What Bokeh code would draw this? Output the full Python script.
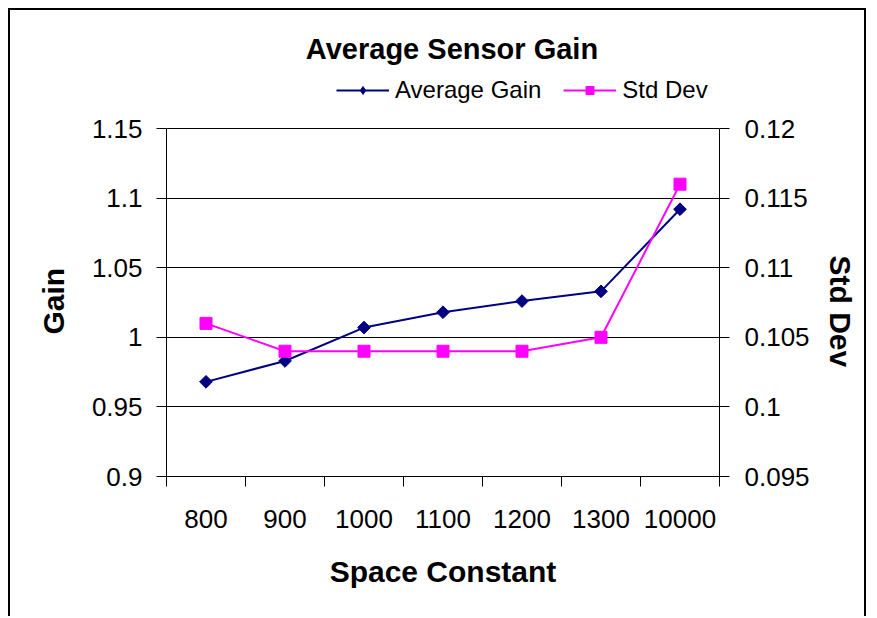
import math
from bokeh.plotting import figure
from bokeh.models import (Range1d, FactorRange, LinearAxis, FixedTicker,
                          Legend, LegendItem, Label, Title)
from bokeh.embed import file_html
from bokeh.resources import INLINE

# ---- data ----
categories = ["800", "900", "1000", "1100", "1200", "1300", "10000"]
avg_gain = [0.968, 0.983, 1.007, 1.018, 1.026, 1.033, 1.092]
std_dev = [0.106, 0.104, 0.104, 0.104, 0.104, 0.105, 0.116]
gain_ticks = [0.9, 0.95, 1.0, 1.05, 1.1, 1.15]
gain_tick_labels = ["0.9", "0.95", "1", "1.05", "1.1", "1.15"]
std_ticks = [0.095, 0.1, 0.105, 0.11, 0.115, 0.12]
std_tick_labels = ["0.095", "0.1", "0.105", "0.11", "0.115", "0.12"]

FONT = "Liberation Sans"
NAVY = "#000080"
MAGENTA = "#FF00FF"

# ---- layout (pixels) ----
W, H = 858, 608
BORDER_BOTTOM = 142
FRAME_H = H - BORDER_BOTTOM      # frame reaches the top of the canvas
AXIS_SPAN = 348                  # pixel height of the value axes

g0, g1 = gain_ticks[0], gain_ticks[-1]
s0, s1 = std_ticks[0], std_ticks[-1]
g_top = g0 + (g1 - g0) * FRAME_H / AXIS_SPAN
s_top = s0 + (s1 - s0) * FRAME_H / AXIS_SPAN

p = figure(width=W, height=H,
           x_range=FactorRange(factors=categories),
           y_range=Range1d(g0, g_top),
           x_axis_type=None,
           output_backend="svg", toolbar_location=None,
           min_border_left=156, min_border_right=149,
           min_border_top=0, min_border_bottom=BORDER_BOTTOM)
p.extra_y_ranges = {"std": Range1d(s0, s_top)}
p.outline_line_color = None
p.background_fill_color = "white"
p.border_fill_color = "white"
p.styles = {"margin-left": "8px", "margin-top": "8px",
            "border-top": "2px solid black",
            "border-left": "2px solid black",
            "border-right": "2px solid black"}

# ---- x axis: labels at category centres, ticks at boundaries ----
n = len(categories)
xaxis = LinearAxis(
    ticker=FixedTicker(ticks=[i + 0.5 for i in range(n)],
                       minor_ticks=list(range(n + 1))),
    major_label_overrides={i + 0.5: c for i, c in enumerate(categories)})
xaxis.major_tick_out = 0
xaxis.major_tick_in = 0
xaxis.minor_tick_out = 10
xaxis.minor_tick_in = 0
xaxis.minor_tick_line_color = "black"
xaxis.axis_line_color = "black"
xaxis.major_label_standoff = 23
xaxis.major_label_text_font = FONT
xaxis.major_label_text_font_size = "26px"
xaxis.major_label_text_color = "black"
xaxis.axis_label = "Space Constant"
xaxis.axis_label_text_font = FONT
xaxis.axis_label_text_font_size = "30px"
xaxis.axis_label_text_font_style = "bold"
xaxis.axis_label_text_color = "black"
xaxis.axis_label_standoff = 24
p.add_layout(xaxis, "below")

# ---- left axis ----
yl = p.yaxis[0]
yl.bounds = (g0, g1)
yl.ticker = FixedTicker(ticks=gain_ticks)
yl.major_label_overrides = dict(zip(gain_ticks, gain_tick_labels))
yl.major_tick_out = 10
yl.major_tick_in = 0
yl.minor_tick_line_color = None
yl.axis_line_color = "black"
yl.major_tick_line_color = "black"
yl.major_label_standoff = 14
yl.major_label_text_font = FONT
yl.major_label_text_font_size = "26px"
yl.major_label_text_color = "black"

# left axis title, centred on the value band (not on the taller frame)
gain_title = Title(text="Gain", align="left", offset=142,
                   vertical_align="bottom", standoff=37,
                   text_font=FONT, text_font_size="30px",
                   text_font_style="bold", text_color="black")
p.add_layout(gain_title, "left")

# ---- right axis ----
yr = LinearAxis(y_range_name="std", ticker=FixedTicker(ticks=std_ticks),
                bounds=(s0, s1),
                major_label_overrides=dict(zip(std_ticks, std_tick_labels)))
yr.major_tick_out = 10
yr.major_tick_in = 0
yr.minor_tick_line_color = None
yr.axis_line_color = "black"
yr.major_tick_line_color = "black"
yr.major_label_standoff = 15
yr.major_label_text_font = FONT
yr.major_label_text_font_size = "26px"
yr.major_label_text_color = "black"
p.add_layout(yr, "right")

std_title = Title(text="Std Dev", align="left", offset=245,
                  vertical_align="top", standoff=18,
                  text_font=FONT, text_font_size="30px",
                  text_font_style="bold", text_color="black")
p.add_layout(std_title, "right")

# ---- grid ----
p.ygrid.ticker = FixedTicker(ticks=gain_ticks)
p.ygrid.grid_line_color = "black"
p.ygrid.grid_line_width = 1

# ---- series ----
gl = p.line(categories, avg_gain, line_color=NAVY, line_width=2)
gs = p.scatter(categories, avg_gain, marker="square", angle=math.pi / 4,
               size=9, fill_color=NAVY, line_color=NAVY)
sl = p.line(categories, std_dev, line_color=MAGENTA, line_width=2,
            y_range_name="std")
ss = p.scatter(categories, std_dev, marker="square", size=12,
               fill_color=MAGENTA, line_color=MAGENTA, y_range_name="std")
# hidden diamond renderer, used only for the legend symbol
g_key = p.scatter(categories, avg_gain, marker="diamond", size=12,
                  fill_color=NAVY, line_color=NAVY, visible=False)

legend = Legend(items=[LegendItem(label="Average Gain", renderers=[gl, g_key]),
                       LegendItem(label="Std Dev", renderers=[sl, ss])],
                orientation="horizontal", location=(170, 372),
                glyph_width=53, glyph_height=20, label_standoff=6,
                spacing=22, padding=0, margin=0,
                border_line_color=None, background_fill_alpha=0,
                inactive_fill_alpha=0,
                label_text_font=FONT, label_text_font_size="24px",
                label_text_color="black")
p.add_layout(legend, "center")

title = Label(x=285.5, y=428, x_units="screen", y_units="screen",
              text="Average Sensor Gain", text_font=FONT,
              text_font_size="29px", text_font_style="bold",
              text_align="center", text_baseline="alphabetic",
              text_color="black")
p.add_layout(title)

open("out.html", "w").write(file_html(p, INLINE))
